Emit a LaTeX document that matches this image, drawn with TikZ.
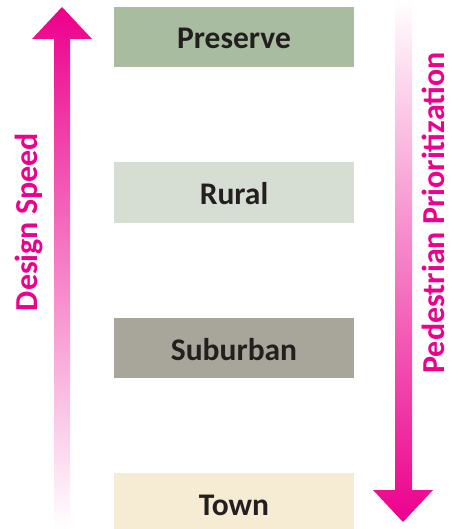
\documentclass[tikz,border=0pt]{standalone}
\usepackage{fontspec}
\setmainfont{Carlito}
\definecolor{mag}{RGB}{236,0,140}
\definecolor{txt}{RGB}{35,31,32}
\definecolor{cpres}{RGB}{168,189,160}
\definecolor{crur}{RGB}{214,222,211}
\definecolor{csub}{RGB}{168,165,155}
\definecolor{ctown}{RGB}{245,236,211}
\tikzset{
  zone/.style={fill=#1, draw=none, minimum width=240pt, minimum height=60pt, inner sep=0pt,
    text height=24pt, text depth=0pt,
    font=\fontsize{31.5}{34}\selectfont\bfseries, text=txt},
  side/.style={rotate=90, font=\fontsize{32}{36}\selectfont\bfseries, text=mag, inner sep=0pt}
}
\begin{document}
\begin{tikzpicture}[x=1pt,y=-1pt]
\useasboundingbox (0,0) rectangle (457,529);
% left arrow (up)
\shade[top color=mag, bottom color=white]
  (54,529) -- (54,39) -- (32,39) -- (62,7) -- (92,39) -- (70,39) -- (70,529) -- cycle;
% right arrow (down)
\shade[top color=white, bottom color=mag]
  (395,0) -- (412,0) -- (412,490) -- (433,490) -- (403,522) -- (373,490) -- (395,490) -- cycle;
\node[zone=cpres] (pres) at (234,37) {Preserve};
\node[zone=crur, minimum height=61pt] (rur) at (234,192.5) {Rural};
\node[zone=csub] (sub) at (234,348) {Suburban};
\node[zone=ctown] (town) at (234,503) {Town};
\node[side] (ds) at (29,222) {Design Speed};
\node[side] (pp) at (433,213) {Pedestrian Prioritization};
\end{tikzpicture}
\end{document}
